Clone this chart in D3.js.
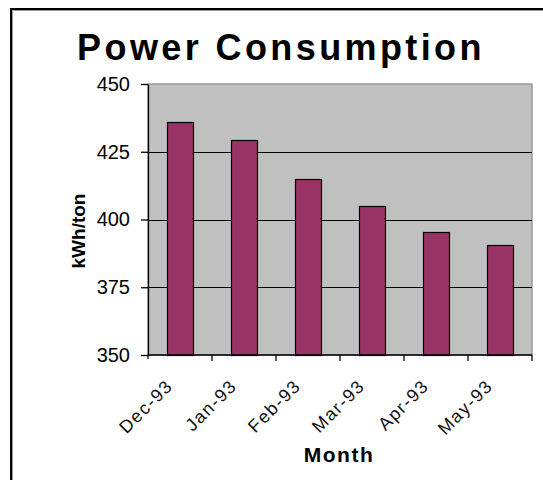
<!DOCTYPE html>
<html>
<head>
<meta charset="utf-8">
<script src="https://cdn.jsdelivr.net/npm/d3@7"></script>
<style>
  body { margin: 0; background: #fff; }
  svg { display: block; font-family: "Liberation Sans", Arial, sans-serif; }
</style>
</head>
<body>
<div class="chart"></div>
<script>
// chart data
var months = ['Dec-93', 'Jan-93', 'Feb-93', 'Mar-93', 'Apr-93', 'May-93'];
var kwhPerTon = [436, 429.5, 415, 405, 395.5, 390.5];
var yTicks = [350, 375, 400, 425, 450];
var gridTicks = [375, 400, 425];

var width = 543;
var height = 480;
// plot area inside the chart
var plot = { left: 148, right: 532, top: 84, bottom: 355 };

var svg = d3.select('.chart')
  .append('svg')
  .attr('width', width)
  .attr('height', height);

// chart area frame (runs off the right and bottom)
svg.append('rect')
  .attr('x', 11).attr('y', 9)
  .attr('width', 620).attr('height', 600)
  .attr('fill', '#fff')
  .attr('stroke', '#000')
  .attr('stroke-width', 2);
svg.append('path')
  .attr('d', 'M12.5,620V10.5H620')
  .attr('fill', 'none')
  .attr('stroke', '#999')
  .attr('stroke-width', 1);

var x = d3.scaleBand()
  .domain(months)
  .range([plot.left, plot.right])
  .paddingInner(0.6)
  .paddingOuter(0.3);

var y = d3.scaleLinear()
  .domain([350, 450])
  .range([plot.bottom, plot.top]);

// plot area background
svg.append('rect')
  .attr('x', plot.left)
  .attr('y', plot.top)
  .attr('width', plot.right - plot.left)
  .attr('height', plot.bottom - plot.top)
  .attr('fill', '#c0c0c0')
  .attr('stroke', '#9a9a9a')
  .attr('stroke-width', 1.5);

// gridlines
svg.selectAll('.grid')
  .data(gridTicks)
  .enter()
  .append('line')
    .attr('x1', plot.left)
    .attr('x2', plot.right)
    .attr('y1', d => Math.round(y(d)) + 0.5)
    .attr('y2', d => Math.round(y(d)) + 0.5)
    .attr('stroke', '#000');

// bars
svg.selectAll('.bar')
  .data(months)
  .enter()
  .append('rect')
    .attr('x', d => Math.round(x(d)) + 0.5)
    .attr('y', (d, i) => Math.round(y(kwhPerTon[i])) + 0.5)
    .attr('width', Math.round(x.bandwidth()))
    .attr('height', (d, i) => Math.round(y(350)) - Math.round(y(kwhPerTon[i])))
    .attr('fill', '#993366')
    .attr('stroke', '#000')
    .attr('stroke-width', 1.2);

// y axis
var yAxis = svg.append('g')
  .attr('transform', `translate(${plot.left},0)`)
  .call(d3.axisLeft(y).tickValues(yTicks).tickSize(7).tickPadding(11).tickSizeOuter(0));
yAxis.select('.domain').attr('stroke', '#000').attr('stroke-width', 1.3);
yAxis.selectAll('.tick line').attr('stroke', '#000').attr('stroke-width', 1.3);
yAxis.selectAll('.tick text')
  .attr('fill', '#000')
  .style('font-size', '20px')
  .style('font-family', '"Liberation Sans", Arial, sans-serif');

// x axis line and ticks between categories
svg.append('line')
  .attr('x1', plot.left).attr('x2', plot.right)
  .attr('y1', plot.bottom).attr('y2', plot.bottom)
  .attr('stroke', '#000').attr('stroke-width', 1.3);

svg.selectAll('.xtick')
  .data(months)
  .enter()
  .append('line')
    .attr('x1', d => x(d) + x.bandwidth() / 2 + x.step() / 2)
    .attr('x2', d => x(d) + x.bandwidth() / 2 + x.step() / 2)
    .attr('y1', plot.bottom)
    .attr('y2', plot.bottom + 6)
    .attr('stroke', '#000').attr('stroke-width', 1.3);
svg.append('line')
  .attr('x1', plot.left).attr('x2', plot.left)
  .attr('y1', plot.bottom).attr('y2', plot.bottom + 4)
  .attr('stroke', '#000').attr('stroke-width', 1.3);

// rotated month labels
svg.selectAll('.xlabel')
  .data(months)
  .enter()
  .append('text')
    .attr('transform', d => `translate(${x(d) + x.bandwidth() / 2 - 6},387) rotate(-45)`)
    .attr('text-anchor', 'end')
    .style('font-size', '18px')
    .style('letter-spacing', '1.5px')
    .attr('fill', '#111')
    .text(d => d);

// title
svg.append('text')
  .attr('x', 281)
  .attr('y', 60)
  .attr('text-anchor', 'middle')
  .style('font-size', '36px')
  .style('font-weight', 'bold')
  .style('letter-spacing', '3.4px')
  .text('Power Consumption');

// axis titles
svg.append('text')
  .attr('transform', 'translate(85,231) rotate(-90)')
  .attr('text-anchor', 'middle')
  .style('font-size', '19px')
  .style('font-weight', 'bold')
  .text('kWh/ton');

svg.append('text')
  .attr('x', 339)
  .attr('y', 462)
  .attr('text-anchor', 'middle')
  .style('font-size', '21px')
  .style('font-weight', 'bold')
  .style('letter-spacing', '1.5px')
  .text('Month');
</script>
</body>
</html>
